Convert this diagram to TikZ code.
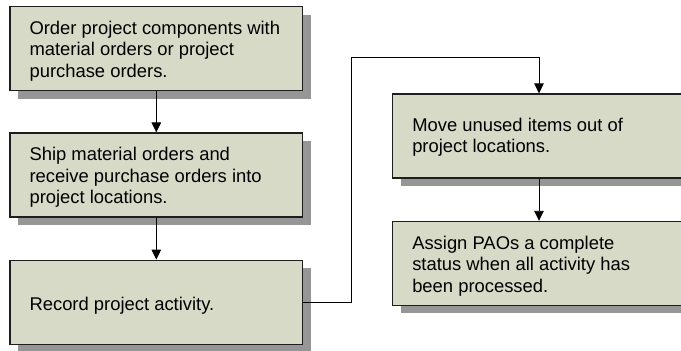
\documentclass[tikz,border=0pt]{standalone}
\usepackage{fontspec}
\setmainfont{Liberation Sans}
\usetikzlibrary{arrows.meta,shadows,calc}
\definecolor{boxfill}{RGB}{216,218,200}
\definecolor{shadowc}{RGB}{150,150,150}
\definecolor{edgec}{RGB}{30,30,30}
\begin{document}
\begin{tikzpicture}[x=1pt,y=-1pt,
  stepbox/.style={draw=edgec, line width=1.2pt, fill=boxfill, rectangle, inner sep=0pt,
    minimum width=292.7pt, minimum height=84pt,
    drop shadow={shadow xshift=8pt, shadow yshift=-8pt, fill=shadowc, opacity=1}},
  txt/.style={inner sep=0pt, anchor=north west, align=left, text=black,
    font=\fontsize{18.4}{21.5}\selectfont},
  arr/.style={draw=black, line width=0.9pt, -{Triangle[length=10pt,width=9.5pt]}}]
\useasboundingbox (0,0) rectangle (681,351);
\node[stepbox] (b1) at (156.3,48.7) {};
\node[stepbox] (b2) at (156.3,175) {};
\node[stepbox] (b3) at (156.3,302.2) {};
\node[stepbox] (b4) at (539,136) {};
\node[stepbox] (b5) at (539,263.4) {};
\node[txt] (t1) at ($(b1.north west)+(20,14)$) {\rule{0pt}{14pt}Order project components with\\material orders or project\\purchase orders.};
\node[txt] (t2) at ($(b2.north west)+(20,14)$) {\rule{0pt}{14pt}Ship material orders and\\receive purchase orders into\\project locations.};
\node[txt] (t3) at ($(b3.north west)+(20,37)$) {\rule{0pt}{14pt}Record project activity.};
\node[txt] (t4) at ($(b4.north west)+(20,23.5)$) {\rule{0pt}{14pt}Move unused items out of\\project locations.};
\node[txt] (t5) at ($(b5.north west)+(20,14)$) {\rule{0pt}{14pt}Assign PAOs a complete\\status when all activity has\\been processed.};
\coordinate (c1) at (351,57.7);
\draw[arr] (b1.south) -- (b2.north);
\draw[arr] (b2.south) -- (b3.north);
\draw[arr] (b3.east) -| (c1) -| (b4.north);
\draw[arr] (b4.south) -- (b5.north);
\end{tikzpicture}
\end{document}
